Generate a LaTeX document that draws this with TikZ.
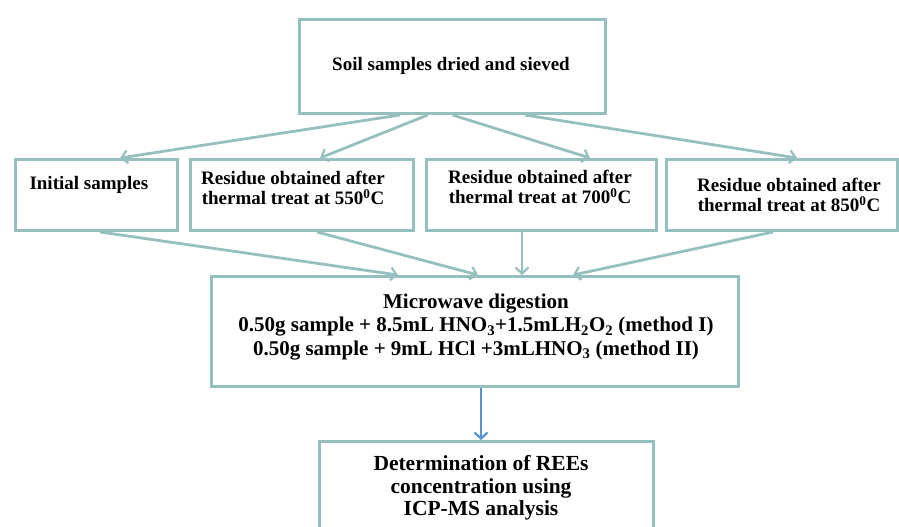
\documentclass[tikz,border=0pt]{standalone}
\usepackage{fontspec}
\setmainfont{Liberation Serif}
\usepackage{xcolor}
\usetikzlibrary{arrows,arrows.meta,positioning,calc}
\definecolor{boxgray}{RGB}{150,191,191}
\definecolor{arrowblue}{RGB}{86,146,214}
\tikzset{
    box/.style = {draw = boxgray, line width = 3pt, inner sep = 0pt, anchor = north west},
    txt/.style = {align = center, font = \fontsize{19}{20}\selectfont\bfseries},
    flow/.style = {draw = boxgray, line width = 2.8pt, -{Straight Barb[length=6pt,width=13pt,line width=2.2pt]}}
}
\begin{document}
\begin{tikzpicture}[x = 1pt, y = -1pt]
    \clip (0,0) rectangle (899,527);
    \useasboundingbox (0,0) rectangle (899,527);
    % boxes
    \node[box, minimum width = 306pt, minimum height = 94pt] (soil) at (298,18) {};
    \node[box, minimum width = 162pt, minimum height = 71pt] (init) at (14,158) {};
    \node[box, minimum width = 223pt, minimum height = 71pt] (t550) at (189,158) {};
    \node[box, minimum width = 230pt, minimum height = 71pt] (t700) at (425,158) {};
    \node[box, minimum width = 231pt, minimum height = 71pt] (t850) at (665,158) {};
    \node[box, minimum width = 527pt, minimum height = 110pt] (micro) at (210,275) {};
    \node[box, minimum width = 334pt, minimum height = 110pt] (icp) at (318,440) {};
    % texts
    \node[txt] (soiltxt) at (451,66) {Soil samples dried and sieved};
    \node[txt, anchor = west] (inittxt) at (26,185) {Initial samples};
    \node[txt] (t550txt) at (293,188) {Residue obtained after\\thermal treat at 550\textsuperscript{0}C};
    \node[txt] (t700txt) at (540,187) {Residue obtained after\\thermal treat at 700\textsuperscript{0}C};
    \node[txt] (t850txt) at (789,195) {Residue obtained after\\thermal treat at 850\textsuperscript{0}C};
    \node[txt, font = \fontsize{21}{23.5}\selectfont\bfseries] (microtxt) at (476,327) {Microwave digestion\\
        0.50g sample + 8.5mL HNO\textsubscript{3}+1.5mLH\textsubscript{2}O\textsubscript{2} (method I)\\
        0.50g sample + 9mL HCl +3mLHNO\textsubscript{3} (method II)};
    \node[txt, font = \fontsize{21.5}{22.5}\selectfont\bfseries] (icptxt) at (481,488) {Determination of REEs\\concentration using\\ICP-MS analysis};
    % connectors
    \coordinate (s1) at ($(soil.south west)!.33!(soil.south east)$);
    \coordinate (s2) at ($(soil.south west)!.42!(soil.south east)$);
    \coordinate (s3) at ($(soil.south west)!.5!(soil.south east)$);
    \coordinate (s4) at ($(soil.south west)!.735!(soil.south east)$);
    \draw[flow] (s1) -- (init.north -| 120,0);
    \draw[flow] (s2) -- (t550.north -| 320,0);
    \draw[flow] (s3) -- (t700.north -| 590,0);
    \draw[flow] (s4) -- (t850.north -| 797,0);
    \draw[flow] (init.south -| 100,0) -- (micro.north -| 398,0);
    \draw[flow] (t550.south -| 317,0) -- (micro.north -| 478,0);
    \draw[flow] (t700.south -| 522,0) -- (micro.north -| 522,0);
    \draw[flow] (t850.south -| 773,0) -- (micro.north -| 573,0);
    \draw[flow, draw = arrowblue] (micro.south -| 481,0) -- (icp.north -| 481,0);
\end{tikzpicture}
\end{document}
